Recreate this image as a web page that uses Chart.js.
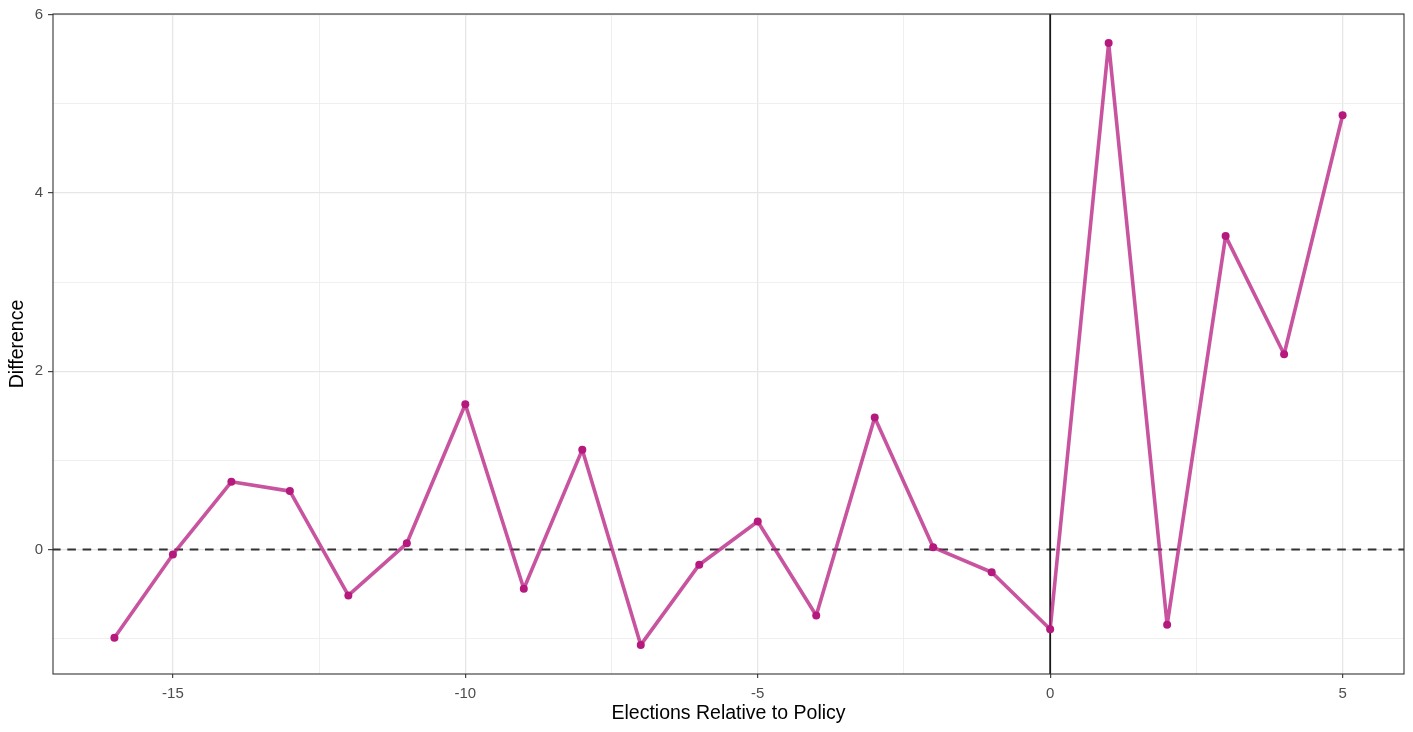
<!DOCTYPE html>
<html>
<head>
<meta charset="utf-8">
<title>Difference by election relative to policy</title>
<script src="https://cdn.jsdelivr.net/npm/chart.js@4/dist/chart.umd.min.js"></script>
<style>
  html, body { margin: 0; padding: 0; background: #ffffff; }
  #wrap { width: 1413px; height: 732px; }
</style>
</head>
<body>
<div id="wrap"><canvas id="chart" width="1413" height="732"></canvas></div>
<script>
// Elections relative to the policy and the estimated difference at each one
const elections = [-16, -15, -14, -13, -12, -11, -10, -9, -8, -7, -6, -5, -4, -3, -2, -1, 0, 1, 2, 3, 4, 5];
const difference = [-0.99, -0.055, 0.76, 0.655, -0.515, 0.07, 1.63, -0.44, 1.12, -1.07, -0.17, 0.315, -0.74, 1.48, 0.025, -0.255, -0.895, 5.68, -0.845, 3.515, 2.19, 4.87];

// Axis breaks (major ones carry labels, the halfway ones are minor grid lines)
const xBreaks = [-15, -12.5, -10, -7.5, -5, -2.5, 0, 2.5, 5];
const xLabels = [-15, -10, -5, 0, 5];
const yBreaks = [-1, 0, 1, 2, 3, 4, 5, 6];
const yLabels = [0, 2, 4, 6];

// Reference lines: policy election and zero difference
const policyAt = [0];
const zeroAt = [0];

const isMajor = (list, v) => list.some(m => Math.abs(m - v) < 1e-9);

const refLines = {
  id: 'refLines',
  beforeDatasetsDraw(chart) {
    const { ctx, chartArea: a, scales: { x, y } } = chart;
    ctx.save();
    ctx.beginPath();
    ctx.rect(a.left, a.top, a.right - a.left, a.bottom - a.top);
    ctx.clip();
    // dashed zero line
    ctx.strokeStyle = '#333333';
    ctx.lineWidth = 2;
    ctx.setLineDash([8.6, 6.7]);
    ctx.lineDashOffset = 1;
    zeroAt.forEach(v => {
      const py = y.getPixelForValue(v);
      ctx.beginPath();
      ctx.moveTo(a.left, py);
      ctx.lineTo(a.right, py);
      ctx.stroke();
    });
    // solid policy line
    ctx.setLineDash([]);
    ctx.strokeStyle = '#1a1a1a';
    ctx.lineWidth = 1.8;
    policyAt.forEach(v => {
      const px = x.getPixelForValue(v);
      ctx.beginPath();
      ctx.moveTo(px, a.top);
      ctx.lineTo(px, a.bottom);
      ctx.stroke();
    });
    ctx.restore();
  }
};

const panelBorder = {
  id: 'panelBorder',
  afterDatasetsDraw(chart) {
    const { ctx, chartArea: a } = chart;
    ctx.save();
    ctx.strokeStyle = '#333333';
    ctx.lineWidth = 1.1;
    ctx.strokeRect(a.left, a.top, a.right - a.left, a.bottom - a.top);
    ctx.restore();
  }
};

const tickFont = { family: '"Liberation Sans", Arial, Helvetica, sans-serif', size: 15 };
const titleFont = { family: '"Liberation Sans", Arial, Helvetica, sans-serif', size: 19.5 };

new Chart(document.getElementById('chart'), {
  type: 'line',
  data: {
    datasets: [{
      data: elections.map((e, i) => ({ x: e, y: difference[i] })),
      borderColor: 'rgba(181, 25, 126, 0.75)',
      borderWidth: 3.6,
      borderJoinStyle: 'round',
      borderCapStyle: 'round',
      pointRadius: 4,
      pointBorderWidth: 0,
      pointBackgroundColor: '#b5197e',
      tension: 0,
      fill: false
    }]
  },
  options: {
    responsive: false,
    animation: false,
    events: [],
    layout: { padding: { top: 14, right: 9, left: 0, bottom: 0 } },
    plugins: { legend: { display: false }, tooltip: { enabled: false } },
    scales: {
      x: {
        type: 'linear',
        min: -17.05,
        max: 6.05,
        afterBuildTicks: s => { s.ticks = xBreaks.map(v => ({ value: v })); },
        afterFit: s => { s.height = 58; },
        border: { display: false },
        grid: {
          color: c => isMajor(xLabels, c.tick.value) ? '#e6e6e6' : '#ededed',
          lineWidth: c => isMajor(xLabels, c.tick.value) ? 1.3 : 0.9,
          tickColor: c => isMajor(xLabels, c.tick.value) ? '#333333' : 'rgba(0,0,0,0)',
          tickLength: 4,
          tickWidth: 1.1
        },
        ticks: {
          autoSkip: false,
          maxRotation: 0,
          padding: 7,
          color: '#4d4d4d',
          font: tickFont,
          callback: v => isMajor(xLabels, v) ? String(v) : ''
        },
        title: {
          display: true,
          text: 'Elections Relative to Policy',
          color: '#000000',
          font: titleFont,
          padding: { top: 0, bottom: 7 }
        }
      },
      y: {
        type: 'linear',
        min: -1.396,
        max: 6.006,
        afterBuildTicks: s => { s.ticks = yBreaks.map(v => ({ value: v })); },
        afterFit: s => { s.width = 53; },
        border: { display: false },
        grid: {
          color: c => isMajor(yLabels, c.tick.value) ? '#e6e6e6' : '#ededed',
          lineWidth: c => isMajor(yLabels, c.tick.value) ? 1.3 : 0.9,
          tickColor: c => isMajor(yLabels, c.tick.value) ? '#333333' : 'rgba(0,0,0,0)',
          tickLength: 5,
          tickWidth: 1.1
        },
        ticks: {
          autoSkip: false,
          padding: 5,
          color: '#4d4d4d',
          font: tickFont,
          callback: v => isMajor(yLabels, v) ? String(v) : ''
        },
        title: {
          display: true,
          text: 'Difference',
          color: '#000000',
          font: titleFont,
          padding: { top: 6, bottom: 0 }
        }
      }
    }
  },
  plugins: [refLines, panelBorder]
});
</script>
</body>
</html>
